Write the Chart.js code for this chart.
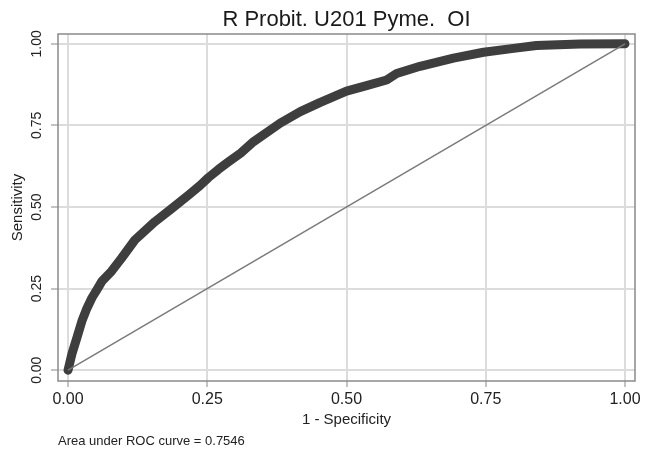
<!DOCTYPE html>
<html>
<head>
<meta charset="utf-8">
<title>ROC</title>
<script src="https://cdn.jsdelivr.net/npm/chart.js@4/dist/chart.umd.min.js"></script>
<style>
  body { margin: 0; background: #fff; }
  canvas { display: block; }
</style>
</head>
<body>
<canvas id="rocChart" width="646" height="453"></canvas>
<script>
// 1 - specificity / sensitivity
const fprValues = [0, 0.007, 0.016, 0.025, 0.034, 0.043, 0.052, 0.061, 0.078, 0.096,
  0.120, 0.156, 0.186, 0.216, 0.237, 0.252, 0.270, 0.288, 0.310, 0.333,
  0.381, 0.417, 0.452, 0.500, 0.536, 0.572, 0.590, 0.632, 0.692, 0.746,
  0.800, 0.841, 0.919, 1];
const tprValues = [0, 0.050, 0.100, 0.151, 0.190, 0.222, 0.247, 0.273, 0.303, 0.343,
  0.399, 0.455, 0.495, 0.536, 0.566, 0.590, 0.615, 0.638, 0.665, 0.700,
  0.757, 0.792, 0.820, 0.855, 0.872, 0.889, 0.909, 0.931, 0.956, 0.974,
  0.986, 0.995, 0.999, 1];
const refX = [0, 1];
const refY = [0, 1];
const tickVals = [0, 0.25, 0.5, 0.75, 1];

const chartTitle = 'R Probit. U201 Pyme.  OI';
const aucNote = 'Area under ROC curve = 0.7546';

const FONT = "'Liberation Sans', Arial, sans-serif";

// box round the plot region
const plotBox = {
  id: 'plotBox',
  afterDraw(chart) {
    const a = chart.chartArea;
    const ctx = chart.ctx;
    ctx.save();
    ctx.strokeStyle = '#8a8a8a';
    ctx.lineWidth = 1.5;
    ctx.strokeRect(a.left, a.top, a.right - a.left, a.bottom - a.top);
    ctx.restore();
  }
};

function fixTicks(scale) {
  scale.ticks = tickVals.map(v => ({ value: v }));
}

const rocChart = new Chart(document.getElementById('rocChart'), {
  type: 'scatter',
  data: {
    datasets: [
      {
        label: 'ROC',
        data: fprValues.map((x, i) => ({ x: x, y: tprValues[i] })),
        showLine: true,
        borderColor: '#3e3e3e',
        borderWidth: 9,
        borderCapStyle: 'round',
        borderJoinStyle: 'round',
        pointRadius: 0,
        tension: 0,
        order: 2
      },
      {
        label: 'Reference',
        data: refX.map((x, i) => ({ x: x, y: refY[i] })),
        showLine: true,
        borderColor: '#7a7a7a',
        borderWidth: 1.5,
        pointRadius: 0,
        order: 1
      }
    ]
  },
  options: {
    responsive: false,
    animation: false,
    layout: { padding: { left: 0, right: 11, top: 0, bottom: 0 } },
    plugins: {
      legend: { display: false },
      tooltip: { enabled: false },
      title: {
        display: true,
        text: chartTitle,
        fullSize: false,
        color: '#1a1a1a',
        font: { family: FONT, size: 22, weight: 'normal', lineHeight: 1.2 },
        padding: { top: 7, bottom: 0.6 }
      },
      subtitle: {
        display: true,
        text: aucNote,
        position: 'bottom',
        align: 'start',
        fullSize: false,
        color: '#222',
        font: { family: FONT, size: 13, weight: 'normal', lineHeight: 1.2 },
        padding: { top: 6.7, bottom: 3.5 }
      }
    },
    scales: {
      x: {
        type: 'linear',
        min: -0.018,
        max: 1.018,
        afterBuildTicks: fixTicks,
        border: { display: false },
        grid: {
          color: '#dcdcdc',
          lineWidth: 2,
          tickColor: '#888',
          tickWidth: 1,
          tickLength: 6
        },
        ticks: {
          color: '#222',
          padding: 3,
          font: { family: FONT, size: 16 },
          callback: v => v.toFixed(2)
        },
        title: {
          display: true,
          text: '1 - Specificity',
          color: '#222',
          font: { family: FONT, size: 15, lineHeight: 1.0 },
          padding: { top: 0, bottom: 0 }
        }
      },
      y: {
        type: 'linear',
        min: -0.033,
        max: 1.030,
        afterBuildTicks: fixTicks,
        afterFit: s => { s.width = 58; },
        border: { display: false },
        grid: {
          color: '#dcdcdc',
          lineWidth: 2,
          tickColor: '#888',
          tickWidth: 1,
          tickLength: 7
        },
        ticks: {
          color: '#222',
          padding: 0,
          minRotation: 90,
          maxRotation: 90,
          crossAlign: 'center',
          font: { family: FONT, size: 14 },
          callback: v => v.toFixed(2)
        },
        title: {
          display: true,
          text: 'Sensitivity',
          color: '#222',
          font: { family: FONT, size: 15, lineHeight: 1.2 },
          padding: { top: 9, bottom: 0 }
        }
      }
    }
  },
  plugins: [plotBox]
});
</script>
</body>
</html>
